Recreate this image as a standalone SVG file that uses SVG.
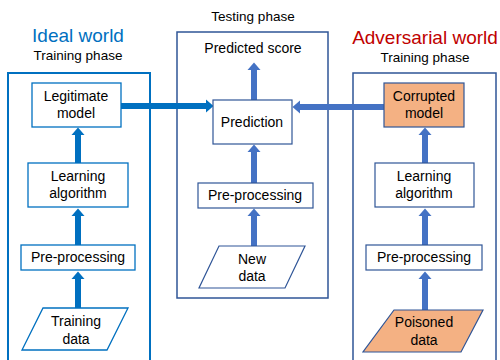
<svg xmlns="http://www.w3.org/2000/svg" width="500" height="360" viewBox="0 0 500 360">
<defs>
<style>
text{font-family:"Liberation Sans",Arial,sans-serif;fill:#000;text-anchor:middle}
.t{font-size:14px}
.h{font-size:13.5px}
.w{font-size:19px}
.lb{fill:#fff;stroke:#0070C0;stroke-width:1.3}
.mb{fill:#fff;stroke:#2F5597;stroke-width:1.2}
.ob{fill:#F4B183;stroke:#2F5597;stroke-width:1.2}
.lp{fill:none;stroke:#0070C0;stroke-width:2}
.mp{fill:none;stroke:#2F5597;stroke-width:1.5}
.la{stroke:#0070C0;stroke-width:6;fill:none;marker-end:url(#ahL)}
.ma{stroke:#4472C4;stroke-width:6;fill:none;marker-end:url(#ahM)}
</style>
<marker id="ahL" markerUnits="userSpaceOnUse" markerWidth="8" markerHeight="14" refX="0" refY="6.5" orient="auto" viewBox="0 0 8 13">
<path d="M0,0 L7.5,6.5 L0,13 z" fill="#0070C0"/>
</marker>
<marker id="ahM" markerUnits="userSpaceOnUse" markerWidth="8" markerHeight="14" refX="0" refY="6.5" orient="auto" viewBox="0 0 8 13">
<path d="M0,0 L7.5,6.5 L0,13 z" fill="#4472C4"/>
</marker>
</defs>
<rect width="500" height="360" fill="#fff"/>

<g id="ideal-panel">
<text x="78" y="42" class="w" style="fill:#0070C0">Ideal world</text>
<text x="78" y="60" class="h">Training phase</text>
<rect x="8" y="73" width="142" height="300" class="lp"/>
</g>
<g id="testing-panel">
<text x="253" y="21" class="h">Testing phase</text>
<rect x="177" y="32" width="151" height="266" class="mp"/>
</g>
<g id="adversarial-panel">
<text x="425" y="44" class="w" style="fill:#C00000">Adversarial world</text>
<text x="425" y="62" class="h">Training phase</text>
<rect x="353" y="73" width="143" height="300" class="mp"/>
</g>

<g id="connectors">
<line x1="78" y1="163" x2="78" y2="135" class="la"/>
<line x1="78" y1="245" x2="78" y2="216" class="la"/>
<line x1="78" y1="308" x2="78" y2="279" class="la"/>
<line x1="121" y1="106" x2="206" y2="106" class="la"/>
<line x1="254" y1="100" x2="254" y2="70" class="ma"/>
<line x1="254" y1="183" x2="254" y2="152" class="ma"/>
<line x1="254" y1="246" x2="254" y2="216" class="ma"/>
<line x1="384" y1="107" x2="300" y2="107" class="ma"/>
<line x1="425" y1="163" x2="425" y2="135" class="ma"/>
<line x1="425" y1="245" x2="425" y2="216" class="ma"/>
<line x1="425" y1="310" x2="425" y2="279" class="ma"/>
</g>

<g id="legitimate-model">
<rect x="32" y="83" width="89" height="44" class="lb"/>
<text x="76" y="101" class="t">Legitimate</text>
<text x="76" y="118" class="t">model</text>
</g>
<g id="learning-left">
<rect x="28" y="163" width="100" height="44" class="lb"/>
<text x="78" y="181" class="t">Learning</text>
<text x="78" y="198" class="t">algorithm</text>
</g>
<g id="preprocessing-left">
<rect x="21" y="245" width="114" height="25" class="lb"/>
<text x="78" y="262" class="t">Pre-processing</text>
</g>
<g id="training-data">
<polygon points="43,308 128,308 107,350 22,350" class="lb"/>
<text x="76" y="326" class="t">Training</text>
<text x="76" y="344" class="t">data</text>
</g>

<g id="predicted-score">
<text x="253" y="53" class="t">Predicted score</text>
</g>
<g id="prediction">
<rect x="213" y="100" width="79" height="44" class="mb"/>
<text x="252" y="127" class="t">Prediction</text>
</g>
<g id="preprocessing-mid">
<rect x="198" y="183" width="115" height="25" class="mb"/>
<text x="255" y="200" class="t">Pre-processing</text>
</g>
<g id="new-data">
<polygon points="219,246 305,246 285,288 199,288" class="mb"/>
<text x="252" y="264" class="t">New</text>
<text x="252" y="281" class="t">data</text>
</g>

<g id="corrupted-model">
<rect x="384" y="83" width="80" height="44" class="ob"/>
<text x="424" y="101" class="t">Corrupted</text>
<text x="424" y="118" class="t">model</text>
</g>
<g id="learning-right">
<rect x="375" y="163" width="99" height="44" class="mb"/>
<text x="424" y="181" class="t">Learning</text>
<text x="424" y="198" class="t">algorithm</text>
</g>
<g id="preprocessing-right">
<rect x="366" y="245" width="116" height="25" class="mb"/>
<text x="424" y="262" class="t">Pre-processing</text>
</g>
<g id="poisoned-data">
<polygon points="394,310 483,310 461,352 363,352" class="ob"/>
<text x="424" y="327" class="t">Poisoned</text>
<text x="424" y="345" class="t">data</text>
</g>
</svg>
